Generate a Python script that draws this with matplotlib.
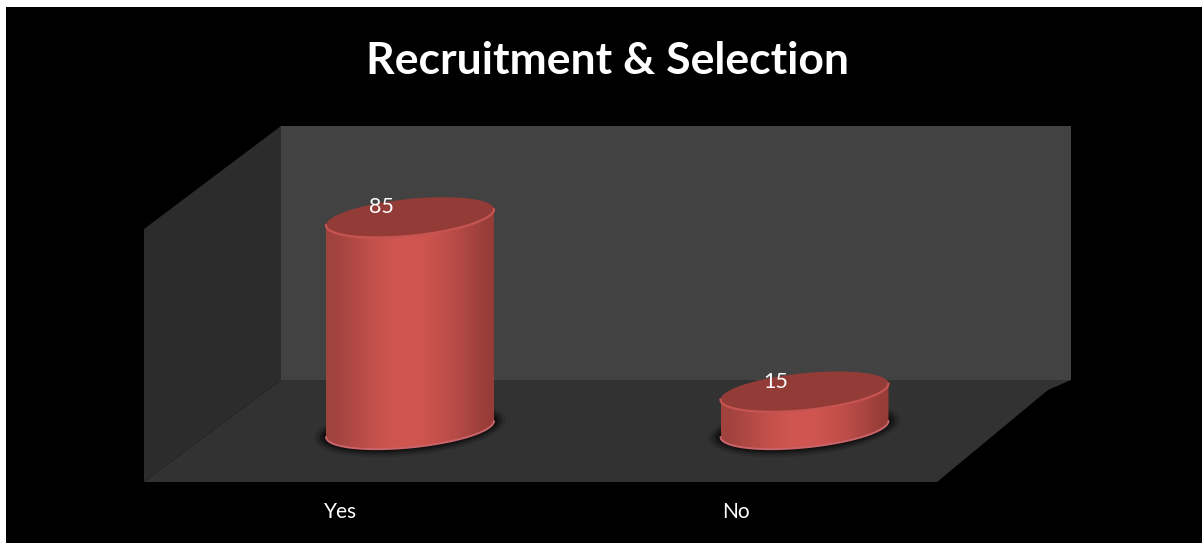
#!/usr/bin/python3

import numpy as np
import matplotlib.pyplot as plt
from matplotlib.patches import Polygon, Rectangle

categories = ['Yes', 'No']
values = [85, 15]
chart_title = 'Recruitment & Selection'

# Size of one category and one value unit on the canvas, in pixels
W, H = 1202, 543
PX_PER_CAT = 394.5
PX_PER_VAL = 2.49
X0, Y0 = 410.0, 429.0

# Cylinder shape, in pixels
RADIUS = 84.0
DEPTH = 18.5
TILT = 8.0

plt.rcParams['font.family'] = ['Lato', 'DejaVu Sans']

fig = plt.figure(figsize=(W / 100, H / 100), dpi=100, facecolor='white')

# Room walls and floor are drawn on a plain pixel canvas
bg = fig.add_axes([0, 0, 1, 1])
bg.set_xlim(0, W)
bg.set_ylim(H, 0)
bg.axis('off')
bg.add_patch(Rectangle((6, 7), W - 6, H - 7, color='black', lw=0))
bg.add_patch(Polygon([(281, 126), (1071, 126), (1071, 380), (281, 380)], color='#424242', lw=0))
bg.add_patch(Polygon([(144, 229), (281, 126), (281, 380), (144, 482)], color='#2c2c2c', lw=0))
bg.add_patch(Polygon([(144, 482), (281, 380), (1071, 380), (1048, 390), (937, 482)], color='#323232', lw=0))

# Bars live on a category / value scale that spans the whole canvas
ax = fig.add_axes([0, 0, 1, 1])
ax.patch.set_alpha(0)
ax.axis('off')
xlim = (-X0 / PX_PER_CAT, (W - X0) / PX_PER_CAT)
ylim = ((Y0 - H) / PX_PER_VAL, Y0 / PX_PER_VAL)


def ring(i, v, t, radius=RADIUS, depth=DEPTH):
    # Points on the tilted ellipse around category i at value v
    x = i + radius * np.cos(t) / PX_PER_CAT
    y = v + (TILT * radius / RADIUS * np.cos(t) - depth * np.sin(t)) / PX_PER_VAL
    return np.column_stack([x, y])


full = np.linspace(0, 2 * np.pi, 120)
front = np.linspace(0, np.pi, 60)
body_colors = np.array([
    [160, 66, 62], [176, 72, 68], [190, 78, 73], [203, 84, 79], [209, 86, 81],
    [208, 85, 80], [200, 82, 77], [186, 76, 71], [172, 70, 66], [150, 60, 56],
]) / 255

for i, v in enumerate(values):
    # Soft dark shadow on the floor
    for grow, alpha in [(12, 0.1), (9, 0.18), (6, 0.28), (3, 0.4), (1, 0.6)]:
        ax.add_patch(Polygon(ring(i, 0, full, RADIUS + grow, DEPTH + grow * 0.7),
                             color='black', alpha=alpha, lw=0, zorder=1))

    # Side of the cylinder with a horizontal shading
    outline = np.vstack([ring(i, 0, front), ring(i, v, front[::-1])])
    clip = Polygon(outline, transform=ax.transData, fc='none', ec='none', zorder=0)
    ax.add_patch(clip)
    dx = RADIUS / PX_PER_CAT
    top_val = v + 30 / PX_PER_VAL
    im = ax.imshow(body_colors[np.newaxis, :, :], extent=(i - dx, i + dx, -30 / PX_PER_VAL, top_val),
                   aspect='auto', interpolation='bicubic', origin='lower', zorder=2)
    im.set_clip_path(clip)

    # Lighter rim along the foot
    foot = ring(i, 0, front)
    ax.plot(foot[:, 0], foot[:, 1], color='#c9656a', lw=1.4, solid_capstyle='round', zorder=3)

    # Top face and its rim
    ax.add_patch(Polygon(ring(i, v, full), color='#933b37', lw=0, zorder=4))
    rim = ring(i, v, front)
    ax.plot(rim[:, 0], rim[:, 1], color='#c65450', lw=1.6, zorder=5)

    ax.text(i - 29 / PX_PER_CAT, v + 10 / PX_PER_VAL, str(v), color='white', fontsize=15.5,
            ha='center', va='center', zorder=6)
    ax.text(i - 69 / PX_PER_CAT, (Y0 - 512) / PX_PER_VAL, categories[i], color='white', fontsize=15,
            ha='center', va='center', zorder=6)

ax.set_xlim(xlim)
ax.set_ylim(ylim)

bg.text(608, 61, chart_title, color='white', fontsize=32, fontweight='bold', ha='center', va='center')

plt.savefig('out.png', dpi=100)
